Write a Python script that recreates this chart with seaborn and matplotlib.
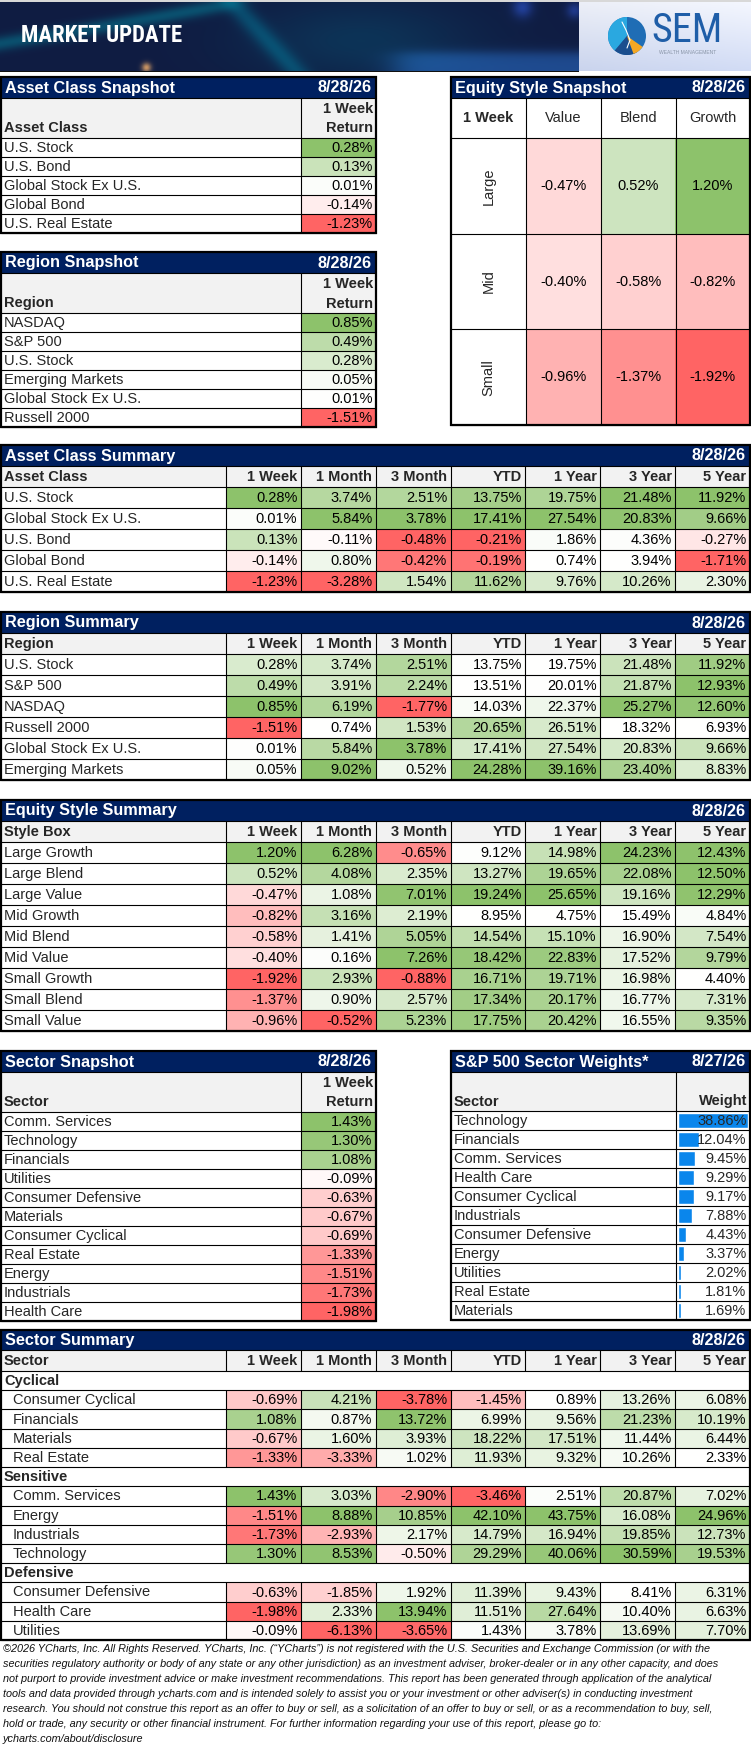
import numpy as np
import pandas as pd
import matplotlib
matplotlib.use("Agg")
import matplotlib.pyplot as plt
import seaborn as sns
from matplotlib.colors import LinearSegmentedColormap
from matplotlib.patches import Rectangle, Wedge, Circle
from matplotlib import font_manager

# ---------------------------------------------------------------- data
report_date = "8/28/26"
weights_date = "8/27/26"
periods = ["1 Week", "1 Month", "3 Month", "YTD", "1 Year", "3 Year", "5 Year"]

asset_snap_labels = ["U.S. Stock", "U.S. Bond", "Global Stock Ex U.S.", "Global Bond", "U.S. Real Estate"]
asset_snap_week = [0.28, 0.13, 0.01, -0.14, -1.23]

region_snap_labels = ["NASDAQ", "S&P 500", "U.S. Stock", "Emerging Markets", "Global Stock Ex U.S.", "Russell 2000"]
region_snap_week = [0.85, 0.49, 0.28, 0.05, 0.01, -1.51]

style_sizes = ["Large", "Mid", "Small"]
style_styles = ["Value", "Blend", "Growth"]
style_week = [[-0.47, 0.52, 1.20],
              [-0.40, -0.58, -0.82],
              [-0.96, -1.37, -1.92]]

asset_sum_labels = ["U.S. Stock", "Global Stock Ex U.S.", "U.S. Bond", "Global Bond", "U.S. Real Estate"]
asset_sum = [[0.28, 3.74, 2.51, 13.75, 19.75, 21.48, 11.92],
             [0.01, 5.84, 3.78, 17.41, 27.54, 20.83, 9.66],
             [0.13, -0.11, -0.48, -0.21, 1.86, 4.36, -0.27],
             [-0.14, 0.80, -0.42, -0.19, 0.74, 3.94, -1.71],
             [-1.23, -3.28, 1.54, 11.62, 9.76, 10.26, 2.30]]

region_sum_labels = ["U.S. Stock", "S&P 500", "NASDAQ", "Russell 2000", "Global Stock Ex U.S.", "Emerging Markets"]
region_sum = [[0.28, 3.74, 2.51, 13.75, 19.75, 21.48, 11.92],
              [0.49, 3.91, 2.24, 13.51, 20.01, 21.87, 12.93],
              [0.85, 6.19, -1.77, 14.03, 22.37, 25.27, 12.60],
              [-1.51, 0.74, 1.53, 20.65, 26.51, 18.32, 6.93],
              [0.01, 5.84, 3.78, 17.41, 27.54, 20.83, 9.66],
              [0.05, 9.02, 0.52, 24.28, 39.16, 23.40, 8.83]]

style_sum_labels = ["Large Growth", "Large Blend", "Large Value", "Mid Growth", "Mid Blend",
                    "Mid Value", "Small Growth", "Small Blend", "Small Value"]
style_sum = [[1.20, 6.28, -0.65, 9.12, 14.98, 24.23, 12.43],
             [0.52, 4.08, 2.35, 13.27, 19.65, 22.08, 12.50],
             [-0.47, 1.08, 7.01, 19.24, 25.65, 19.16, 12.29],
             [-0.82, 3.16, 2.19, 8.95, 4.75, 15.49, 4.84],
             [-0.58, 1.41, 5.05, 14.54, 15.10, 16.90, 7.54],
             [-0.40, 0.16, 7.26, 18.42, 22.83, 17.52, 9.79],
             [-1.92, 2.93, -0.88, 16.71, 19.71, 16.98, 4.40],
             [-1.37, 0.90, 2.57, 17.34, 20.17, 16.77, 7.31],
             [-0.96, -0.52, 5.23, 17.75, 20.42, 16.55, 9.35]]

sector_snap_labels = ["Comm. Services", "Technology", "Financials", "Utilities", "Consumer Defensive",
                      "Materials", "Consumer Cyclical", "Real Estate", "Energy", "Industrials", "Health Care"]
sector_snap_week = [1.43, 1.30, 1.08, -0.09, -0.63, -0.67, -0.69, -1.33, -1.51, -1.73, -1.98]

weight_labels = ["Technology", "Financials", "Comm. Services", "Health Care", "Consumer Cyclical",
                 "Industrials", "Consumer Defensive", "Energy", "Utilities", "Real Estate", "Materials"]
weight_values = [38.86, 12.04, 9.45, 9.29, 9.17, 7.88, 4.43, 3.37, 2.02, 1.81, 1.69]

sector_groups = ["Cyclical", "Sensitive", "Defensive"]
cyclical_labels = ["Consumer Cyclical", "Financials", "Materials", "Real Estate"]
cyclical_vals = [[-0.69, 4.21, -3.78, -1.45, 0.89, 13.26, 6.08],
                 [1.08, 0.87, 13.72, 6.99, 9.56, 21.23, 10.19],
                 [-0.67, 1.60, 3.93, 18.22, 17.51, 11.44, 6.44],
                 [-1.33, -3.33, 1.02, 11.93, 9.32, 10.26, 2.33]]
sensitive_labels = ["Comm. Services", "Energy", "Industrials", "Technology"]
sensitive_vals = [[1.43, 3.03, -2.90, -3.46, 2.51, 20.87, 7.02],
                  [-1.51, 8.88, 10.85, 42.10, 43.75, 16.08, 24.96],
                  [-1.73, -2.93, 2.17, 14.79, 16.94, 19.85, 12.73],
                  [1.30, 8.53, -0.50, 29.29, 40.06, 30.59, 19.53]]
defensive_labels = ["Consumer Defensive", "Health Care", "Utilities"]
defensive_vals = [[-0.63, -1.85, 1.92, 11.39, 9.43, 8.41, 6.31],
                  [-1.98, 2.33, 13.94, 11.51, 27.64, 10.40, 6.63],
                  [-0.09, -6.13, -3.65, 1.43, 3.78, 13.69, 7.70]]

footer_lines = [
    "\u00a92026 YCharts, Inc. All Rights Reserved. YCharts, Inc. (\u201cYCharts\u201d) is not registered with the U.S. Securities and Exchange Commission (or with the",
    "securities regulatory authority or body of any state or any other jurisdiction) as an investment adviser, broker-dealer or in any other capacity, and does",
    "not purport to provide investment advice or make investment recommendations. This report has been generated through application of the analytical",
    "tools and data provided through ycharts.com and is intended solely to assist you or your investment or other adviser(s) in conducting investment",
    "research. You should not construe this report as an offer to buy or sell, as a solicitation of an offer to buy or sell, or as a recommendation to buy, sell,",
    "hold or trade, any security or other financial instrument. For further information regarding your use of this report, please go to:",
    "ycharts.com/about/disclosure",
]

# ---------------------------------------------------------------- style
sns.set_style("white")
_fonts = font_manager.fontManager.ttflist
_names = {f.name for f in _fonts}
BODY = "Liberation Sans" if "Liberation Sans" in _names else "DejaVu Sans"
plt.rcParams["font.family"] = [BODY, "DejaVu Sans"]

# condensed font for the banner, if any is installed
COND = None
for cand in ["Liberation Sans Narrow", "Roboto Condensed", "Open Sans Condensed", "Arial Narrow"]:
    if cand in _names:
        COND = dict(family=[cand, "DejaVu Sans"])
        break
if COND is None and any(f.name == "DejaVu Sans" and str(f.stretch) in ("condensed", "semi-condensed")
                        for f in _fonts):
    COND = dict(family=["DejaVu Sans"], fontstretch="condensed")

NAVY = "#002060"
GRAY = "#F2F2F2"
BAR_BLUE = "#0A86EC"
CMAP = LinearSegmentedColormap.from_list("rwg", ["#FF6464", "#FFFFFF", "#8DC26B"])
FS = 10.5
FS_T = 11.7
LW_IN = 0.8
LW_OUT = 1.6

W, H = 751, 1754
fig = plt.figure(figsize=(W / 100, H / 100), dpi=100)
fig.patch.set_facecolor("white")


def px_axes(x0, y0, x1, y1, **kw):
    return fig.add_axes([x0 / W, 1 - y1 / H, (x1 - x0) / W, (y1 - y0) / H], **kw)


bg = px_axes(0, 0, W, H)
bg.set_zorder(-5)
bg.set_xlim(0, W); bg.set_ylim(H, 0); bg.axis("off")

ov = px_axes(0, 0, W, H)
ov.set_zorder(10)
ov.patch.set_alpha(0)
ov.set_xlim(0, W); ov.set_ylim(H, 0); ov.axis("off")


def scale_vec(v):
    v = np.asarray(v, float)
    out = np.full(v.shape, np.nan)
    fin = np.isfinite(v)
    vv = v[fin]
    lo_p = max(vv.min(), 0.0); hi = vv.max()
    hi_n = min(vv.max(), 0.0); lo = vv.min()
    res = np.zeros_like(vv)
    p = vv > lo_p
    if hi > lo_p:
        res[p] = (vv[p] - lo_p) / (hi - lo_p)
    n = vv < hi_n
    if lo < hi_n:
        res[n] = -(hi_n - vv[n]) / (hi_n - lo)
    out[fin] = res
    return out


def col_scale(arr):
    arr = np.asarray(arr, float)
    return np.column_stack([scale_vec(arr[:, j]) for j in range(arr.shape[1])])


def hline(x0, x1, y, lw=LW_IN):
    ov.plot([x0, x1], [y, y], color="black", lw=lw, solid_capstyle="butt")


def vline(x, y0, y1, lw=LW_IN):
    ov.plot([x, x], [y0, y1], color="black", lw=lw, solid_capstyle="butt")


def frame(x0, y0, x1, y1):
    ov.add_patch(Rectangle((x0, y0), x1 - x0, y1 - y0, fill=False, ec="black", lw=LW_OUT))


def header(x0, x1, y0, y1, title, date):
    bg.add_patch(Rectangle((x0, y0), x1 - x0, y1 - y0, fc=NAVY, ec="none"))
    yc = (y0 + y1) / 2 + 0.5
    ov.text(x0 + 4, yc, title, color="white", fontweight="bold", fontsize=FS_T, ha="left", va="center")
    ov.text(x1 - 4, yc, date, color="white", fontweight="bold", fontsize=FS_T, ha="right", va="center")


def heat(x0, y0, x1, y1, values, normed, mask=None, align="right"):
    ax = px_axes(x0, y0, x1, y1)
    arr = np.asarray(values, float)
    labels = np.array([[f"{v:.2f}%" if np.isfinite(v) else "" for v in row] for row in arr])
    sns.heatmap(normed, ax=ax, cmap=CMAP, vmin=-1, vmax=1, cbar=False, annot=labels, fmt="",
                annot_kws=dict(color="black", fontsize=FS), mask=mask,
                xticklabels=False, yticklabels=False, linewidths=0)
    ax.set_axis_off()
    cell_w = (x1 - x0) / arr.shape[1]
    if align == "right":
        for t in ax.texts:
            x, y = t.get_position()
            t.set_position((x + 0.5 - 3.5 / cell_w, y + 0.03))
            t.set_ha("right")
    return ax


# ---------------------------------------------------------------- banner
bh, bw = 71, 579
yy, xx = np.mgrid[0:bh, 0:bw].astype(float)
img = np.ones((bh, bw, 3)) * np.array([0.06, 0.11, 0.26])
mid = np.exp(-((xx - 360) / 110) ** 2) * np.exp(-((yy - 40) / 40) ** 2)
img += mid[..., None] * np.array([-0.01, 0.09, 0.08])
# teal band 1: from (0,43) rising to (222,7)
d1 = yy - (43 - 0.16 * xx - 0.00005 * xx ** 2)
band1 = np.exp(-(d1 / 7.5) ** 2) * (1 / (1 + np.exp((xx - 235) / 8)))
img += band1[..., None] * np.array([-0.02, 0.20, 0.17])
# teal band 2: diagonal from (230,0) to (296,71)
d2 = (xx - (230 + yy * 66 / 71)) / 1.35
band2 = np.exp(-(d2 / 10) ** 2)
img += band2[..., None] * np.array([-0.02, 0.16, 0.15])
# lighter blue region bottom right
br = (1 / (1 + np.exp(-(xx - 395) / 10))) * (1 / (1 + np.exp(-(yy - 52) / 3)))
img += br[..., None] * np.array([0.06, 0.18, 0.30])
for cx, cy, r, a in [(522, 7, 10, 0.6), (574, 10, 8, 0.5)]:
    b = a * np.exp(-((xx - cx) ** 2 + (yy - cy) ** 2) / r ** 2)
    img += b[..., None] * np.array([0.12, 0.22, 0.55])
dot = 0.85 * np.exp(-((xx - 146) ** 2 + (yy - 67) ** 2) / 22)
img += dot[..., None] * np.array([0.85, 0.55, 0.15])
img = np.clip(img, 0, 1)
bg.imshow(img, extent=(0, bw, bh, 0), aspect="auto", interpolation="bilinear", zorder=0)

yy2, xx2 = np.mgrid[0:bh, 0:(W - bw)].astype(float)
t = yy2 / bh
img2 = (1 - t)[..., None] * np.array([0.93, 0.94, 0.97]) + t[..., None] * np.array([0.79, 0.83, 0.93])
img2 += (0.03 * xx2 / (W - bw))[..., None]
img2 = np.clip(img2, 0, 1)
bg.imshow(img2, extent=(bw, W, bh, 0), aspect="auto", interpolation="bilinear", zorder=0)
bg.set_xlim(0, W); bg.set_ylim(H, 0)
bg.add_patch(Rectangle((0, 0), W, 1.5, fc="#D8D8D8", ec="none", zorder=2))
bg.add_patch(Rectangle((0, 70.5), bw, 1.5, fc="#111111", ec="none", zorder=2))

if COND is not None:
    ov.text(21, 36, "MARKET UPDATE", color="white", fontweight="bold", fontsize=16.5,
            ha="left", va="center", **COND)
else:
    ov.text(21, 36, "MARKET UPDATE", color="white", fontweight="bold", fontsize=13.5,
            ha="left", va="center")
lc = (627, 36)
ov.add_patch(Circle(lc, 19, fc="#1F6DB5", ec="none"))
ov.add_patch(Wedge(lc, 19, 130, 270, fc="#2AA8E0", ec="none"))
ov.add_patch(Wedge(lc, 19, 60, 130, fc="#1B4E8E", ec="none"))
ov.add_patch(Wedge(lc, 19, 35, 70, fc="#F6A823", ec="none"))
ov.plot([622, 626, 630, 627], [22, 30, 40, 48], color="white", lw=0.8)
if COND is not None:
    ov.text(651, 31, "SEM", color="#1F5EA8", fontsize=29, ha="left", va="center", **COND)
else:
    ov.text(651, 31, "SEM", color="#1F5EA8", fontsize=24, ha="left", va="center")
ov.text(688, 53, "WEALTH MANAGEMENT", color="#8A96A8", fontsize=3.6, ha="center", va="center")

# ---------------------------------------------------------------- snapshot tables (left)
def snapshot(x0, xv, x1, ytop, title, first, labels, vals, rh=19, hh=21, sh=40):
    yh = ytop + hh
    ys = yh + sh
    n = len(labels)
    yb = ys + rh * n
    header(x0, x1, ytop, yh, title, report_date)
    bg.add_patch(Rectangle((x0, yh), x1 - x0, sh, fc=GRAY, ec="none"))
    ov.text(x0 + 3, ys - 9.5, first, fontweight="bold", fontsize=FS, ha="left", va="center")
    ov.text(x1 - 3, ys - 29, "1 Week", fontweight="bold", fontsize=FS, ha="right", va="center")
    ov.text(x1 - 3, ys - 9.5, "Return", fontweight="bold", fontsize=FS, ha="right", va="center")
    arr = np.asarray(vals, float).reshape(-1, 1)
    heat(xv, ys, x1, yb, arr, col_scale(arr))
    for i, lab in enumerate(labels):
        ov.text(x0 + 3, ys + rh * (i + 0.5) + 0.5, lab, fontsize=FS, ha="left", va="center")
    for k in range(n + 1):
        hline(x0, x1, ys + rh * k)
    hline(x0, x1, yh)
    vline(xv, yh, yb)
    frame(x0, ytop, x1, yb)


snapshot(1, 301, 376, 77, "Asset Class Snapshot", "Asset Class", asset_snap_labels, asset_snap_week)
snapshot(1, 301, 376, 252, "Region Snapshot", "Region", region_snap_labels, region_snap_week)
snapshot(1, 301, 376, 1051, "Sector Snapshot", "Sector", sector_snap_labels, sector_snap_week)

# ---------------------------------------------------------------- equity style snapshot
ex = [451, 526, 601, 676, 750]
e_top, e_h, e_s, e_b = 77, 98, 138, 425
header(ex[0], ex[-1], e_top, e_h, "Equity Style Snapshot", report_date)
ov.text((ex[0] + ex[1]) / 2, (e_h + e_s) / 2, "1 Week", fontweight="bold", fontsize=FS, ha="center", va="center")
for k, s in enumerate(style_styles):
    ov.text((ex[k + 1] + ex[k + 2]) / 2, (e_h + e_s) / 2, s, fontsize=FS, ha="center", va="center")
sw = np.asarray(style_week, float)
heat(ex[1], e_s, ex[-1], e_b, sw, scale_vec(sw.ravel()).reshape(sw.shape), align="center")
erh = (e_b - e_s) / 3
for i, s in enumerate(style_sizes):
    ov.text((ex[0] + ex[1]) / 2, e_s + erh * (i + 0.5), s, fontsize=FS, rotation=90, ha="center", va="center")
for k in range(4):
    hline(ex[0], ex[-1], e_s + erh * k)
hline(ex[0], ex[-1], e_h)
for x in ex[1:-1]:
    vline(x, e_h, e_b)
frame(ex[0], e_top, ex[-1], e_b)

# ---------------------------------------------------------------- sector weights
wx0, wxv, wx1 = 451, 676, 750
w_top, w_h, w_s = 1051, 1072, 1111
wrh = 19
w_b = w_s + wrh * len(weight_labels)
header(wx0, wx1, w_top, w_h, "S&P 500 Sector Weights*", weights_date)
bg.add_patch(Rectangle((wx0, w_h), wx1 - wx0, w_s - w_h, fc=GRAY, ec="none"))
ov.text(wx0 + 3, w_s - 9.5, "Sector", fontweight="bold", fontsize=FS, ha="left", va="center")
ov.text(wx1 - 3, w_s - 9.5, "Weight", fontweight="bold", fontsize=FS, ha="right", va="center")
axw = px_axes(wxv + 1.5, w_s, wx1 - 2, w_b)
wdf = pd.DataFrame({"sector": weight_labels, "weight": weight_values})
sns.barplot(data=wdf, x="weight", y="sector", orient="h", color=BAR_BLUE, saturation=1,
            width=0.8, ax=axw)
axw.set_xlim(0, max(weight_values))
axw.set_ylim(len(weight_labels) - 0.5, -0.5)
axw.set_axis_off()
for i, (lab, v) in enumerate(zip(weight_labels, weight_values)):
    yc = w_s + wrh * (i + 0.5) + 0.5
    ov.text(wx0 + 3, yc, lab, fontsize=FS, ha="left", va="center")
    ov.text(wx1 - 3.5, yc, f"{v:.2f}%", fontsize=FS, ha="right", va="center")
for k in range(len(weight_labels) + 1):
    hline(wx0, wx1, w_s + wrh * k)
hline(wx0, wx1, w_h)
vline(wxv, w_h, w_b)
frame(wx0, w_top, wx1, w_b)

# ---------------------------------------------------------------- summary tables
COLX = [226 + (750 - 226) * k / 7 for k in range(8)]


def summary(ytop, title, first, labels, vals, rh, groups=(), hh=21, ch=21, indent=0):
    x0, x1 = 1, 750
    yh = ytop + hh
    yc = yh + ch
    n = len(labels)
    yb = yc + rh * n
    header(x0, x1, ytop, yh, title, report_date)
    bg.add_patch(Rectangle((x0, yh), x1 - x0, ch, fc=GRAY, ec="none"))
    ov.text(x0 + 3, (yh + yc) / 2 + 0.5, first, fontweight="bold", fontsize=FS, ha="left", va="center")
    for k, p in enumerate(periods):
        ov.text(COLX[k + 1] - 3.5, (yh + yc) / 2 + 0.5, p, fontweight="bold", fontsize=FS, ha="right", va="center")
    arr = np.asarray(vals, float)
    mask = np.isnan(arr)
    heat(COLX[0], yc, COLX[-1], yb, arr, col_scale(arr), mask=mask)
    for i, lab in enumerate(labels):
        ymid = yc + rh * (i + 0.5) + 0.5
        if i in groups:
            ov.text(x0 + 3, ymid, lab, fontweight="bold", fontsize=FS, ha="left", va="center")
        else:
            ov.text(x0 + 3 + indent, ymid, lab, fontsize=FS, ha="left", va="center")
    hline(x0, x1, yh)
    for k in range(n + 1):
        hline(x0, x1, yc + rh * k)
    segs = [(yh, yc)] + [(yc + rh * i, yc + rh * (i + 1)) for i in range(n) if i not in groups]
    for x in COLX[:-1]:
        for a, b in segs:
            vline(x, a, b)
    frame(x0, ytop, x1, yb)


summary(445, "Asset Class Summary", "Asset Class", asset_sum_labels, asset_sum, 21)
summary(612, "Region Summary", "Region", region_sum_labels, region_sum, 21)
summary(800, "Equity Style Summary", "Style Box", style_sum_labels, style_sum, 21)

sec_labels, sec_vals, sec_groups = [], [], []
for g, labs, vals in zip(sector_groups,
                         [cyclical_labels, sensitive_labels, defensive_labels],
                         [cyclical_vals, sensitive_vals, defensive_vals]):
    sec_groups.append(len(sec_labels))
    sec_labels.append(g)
    sec_vals.append([np.nan] * len(periods))
    sec_labels.extend(labs)
    sec_vals.extend(vals)
summary(1330, "Sector Summary", "Sector", sec_labels, sec_vals, (1640 - 1371) / 14,
        groups=tuple(sec_groups), hh=20, ch=21, indent=9)

# ---------------------------------------------------------------- footer
for i, line in enumerate(footer_lines):
    ov.text(3, 1649 + 15 * i, line, fontsize=7.8, style="italic", ha="left", va="center", color="#111111")

fig.savefig("out.png", dpi=100, facecolor="white")
